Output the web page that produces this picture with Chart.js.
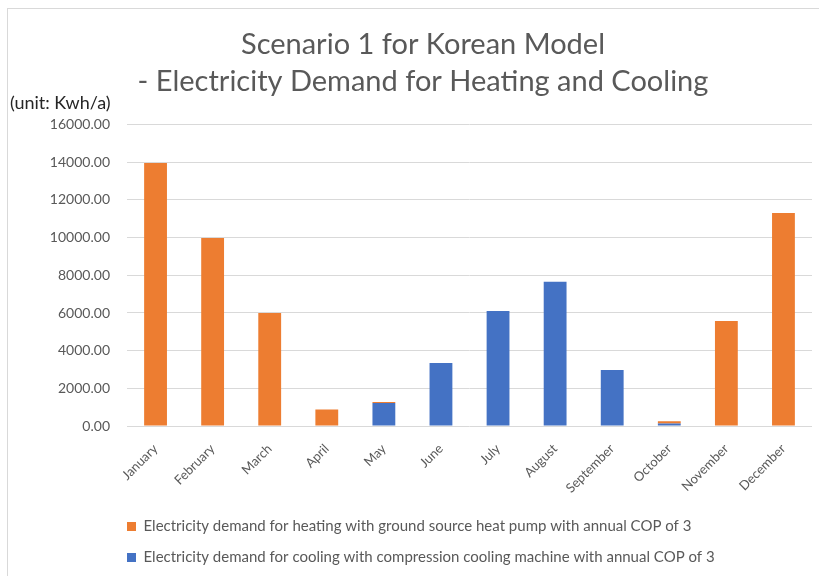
<!DOCTYPE html>
<html>
<head>
<meta charset="utf-8">
<script src="https://cdn.jsdelivr.net/npm/chart.js@4.4.1/dist/chart.umd.min.js"></script>
<style>
  html, body { margin: 0; padding: 0; background: #fff; }
  #wrap { position: relative; width: 819px; height: 576px; overflow: hidden; }
  #frame { position: absolute; left: 7px; top: 8px; width: 900px; height: 700px;
           border-left: 1px solid #d9d9d9; border-top: 1px solid #d9d9d9; }
  #chart { position: absolute; left: 0; top: 0; }
</style>
</head>
<body>
<div id="wrap">
  <div id="frame"></div>
  <canvas id="chart" width="819" height="576"></canvas>
</div>
<script>
const meses = ['January', 'February', 'March', 'April', 'May', 'June', 'July',
               'August', 'September', 'October', 'November', 'December'];
const aquecimento = [13960, 9980, 6000, 880, 60, 0, 0, 0, 0, 110, 5580, 11310];
const resfriamento = [0, 0, 0, 0, 1220, 3350, 6100, 7660, 2980, 140, 0, 0];
const rotuloAquecimento = 'Electricity demand for heating with ground source heat pump with annual COP of 3';
const rotuloResfriamento = 'Electricity demand for cooling with compression cooling machine with annual COP of 3';

const fonte = 'Lato, "Liberation Sans", sans-serif';
const cinza = '#595959';

// acerta a posicao da legenda e do titulo
const ajusteLegenda = {
    id: 'ajusteLegenda',
    afterLayout(chart) {
        const lg = chart.legend;
        lg.left -= 16;
        lg.right -= 16;
        const t = chart.titleBlock;
        t.left += 12;
        t.right += 12;
    }
};

const ctx = document.getElementById('chart').getContext('2d');
new Chart(ctx, {
    type: 'bar',
    data: {
        labels: meses,
        datasets: [
            {
                label: rotuloResfriamento,
                data: resfriamento,
                backgroundColor: '#4472C4',
                barPercentage: 0.4,
                categoryPercentage: 1
            },
            {
                label: rotuloAquecimento,
                data: aquecimento,
                backgroundColor: '#ED7D31',
                barPercentage: 0.4,
                categoryPercentage: 1
            }
        ]
    },
    options: {
        responsive: false,
        animation: false,
        layout: { padding: { left: 10, right: 7, top: 0, bottom: 1 } },
        plugins: {
            title: {
                display: true,
                text: ['Scenario 1 for Korean Model', '- Electricity Demand for Heating and Cooling'],
                color: cinza,
                font: { family: fonte, size: 29, weight: 'normal', lineHeight: '37px' },
                padding: { top: 26, bottom: -8 }
            },
            subtitle: {
                display: true,
                text: '(unit: Kwh/a)',
                align: 'start',
                color: '#262626',
                font: { family: fonte, size: 18, weight: 'normal' },
                padding: { top: 0, bottom: 11 }
            },
            legend: {
                position: 'bottom',
                align: 'start',
                fullSize: false,
                reverse: true,
                labels: {
                    boxWidth: 9,
                    boxHeight: 9,
                    padding: 16,
                    color: cinza,
                    font: { family: fonte, size: 15 }
                }
            },
            tooltip: { enabled: false }
        },
        scales: {
            x: {
                stacked: true,
                grid: { display: false },
                border: { display: false },
                ticks: {
                    color: cinza,
                    font: { family: fonte, size: 13 },
                    minRotation: 45,
                    maxRotation: 45,
                    padding: 7
                }
            },
            y: {
                stacked: true,
                min: 0,
                max: 16000,
                afterFit: scale => { scale.width = 117; },
                grid: { color: '#d9d9d9', drawTicks: false },
                border: { display: false },
                ticks: {
                    stepSize: 2000,
                    color: cinza,
                    font: { family: fonte, size: 14 },
                    padding: 17,
                    callback: v => v.toFixed(2)
                }
            }
        }
    },
    plugins: [ajusteLegenda]
});
</script>
</body>
</html>
